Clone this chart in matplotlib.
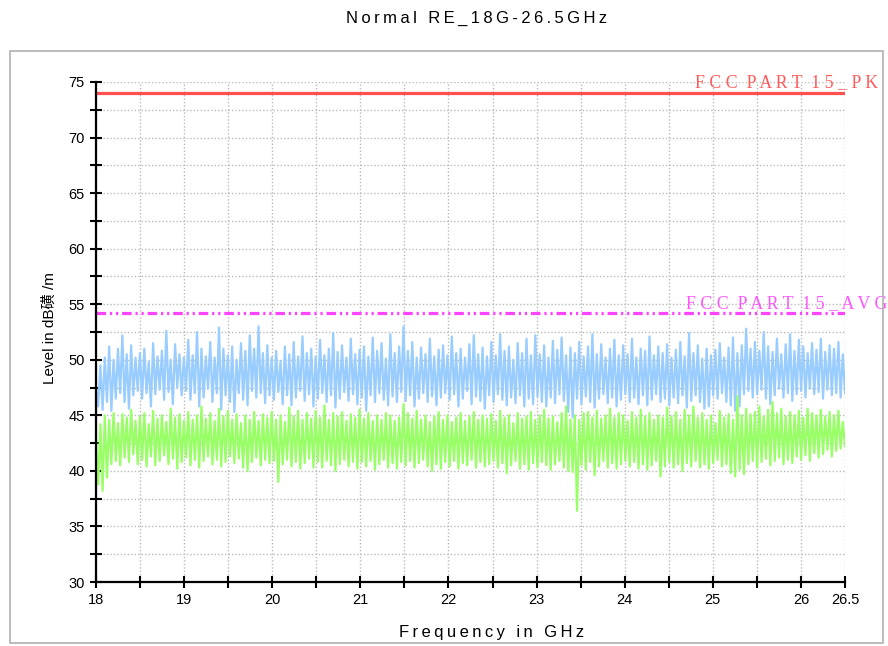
import numpy as np
import matplotlib
matplotlib.use("Agg")
import matplotlib.pyplot as plt
from matplotlib.patches import Rectangle

plt.rcParams['font.family'] = ['Liberation Sans', 'DejaVu Sans', 'Noto Sans CJK SC']

# limit lines (dBuV/m)
pk_limit = 74.0
avg_limit = 54.2

# sweep envelopes, one value per 0.05 GHz (18.0 .. 26.5)
blue_peaks = [
    47.5, 49.5, 50.2, 51.2, 50.0, 51.0, 52.2, 50.5, 51.3, 50.2,
    50.6, 51.0, 49.8, 51.5, 50.3, 50.8, 52.6, 50.0, 51.4, 50.5,
    50.2, 51.8, 50.4, 52.5, 51.0, 50.3, 51.6, 50.2, 52.9, 51.0,
    50.4, 51.2, 50.0, 51.5, 50.8, 52.2, 51.0, 53.0, 50.6, 51.3,
    50.2, 50.8, 49.9, 51.2, 50.5, 51.6, 50.3, 52.1, 50.6, 51.0,
    50.3, 51.8, 50.4, 51.0, 52.4, 50.7, 51.3, 50.2, 51.9, 50.5,
    50.9, 51.2, 50.3, 52.0, 50.8, 51.5, 50.1, 52.3, 50.6, 51.2,
    53.0, 50.8, 51.6, 50.2, 51.1, 50.5, 51.9, 50.3, 50.9, 51.3,
    50.4, 52.1, 50.6, 51.0, 50.2, 51.4, 52.2, 50.5, 51.1, 50.3,
    51.6, 50.4, 52.3, 50.8, 51.2, 50.0, 51.5, 50.6, 51.9, 50.4,
    52.2, 50.5, 51.3, 50.2, 51.7, 50.9, 52.0, 50.4, 51.1, 50.6,
    51.6, 50.3, 51.2, 52.3, 50.5, 51.4, 50.2, 51.0, 51.8, 50.4,
    51.3, 50.5, 51.9, 50.2, 51.0, 50.8, 52.1, 50.4, 51.2, 50.6,
    51.4, 50.2, 50.9, 51.6, 50.3, 52.4, 50.6, 51.3, 50.1, 51.0,
    50.4, 50.9, 51.5, 50.2, 51.1, 52.0, 50.6, 51.3, 52.8, 51.0,
    51.6, 50.8, 52.5, 51.2, 50.7, 51.9, 50.5, 51.4, 52.3, 50.8,
    51.8, 51.2, 50.6, 51.5, 50.9, 51.9, 50.7, 51.3, 51.0, 51.6,
    50.5]
blue_troughs = [
    45.8, 45.5, 46.2, 45.4, 46.5, 47.0, 46.2, 45.6, 46.8, 47.2,
    46.5, 47.0, 45.8, 46.9, 47.3, 46.4, 47.1, 46.0, 47.5, 46.8,
    47.2, 46.4, 47.0, 45.8, 46.6, 47.4, 46.2, 47.0, 45.5, 46.8,
    46.2, 45.3, 47.0, 46.4, 45.9, 47.2, 46.6, 47.0, 46.1, 46.8,
    46.4, 47.1, 46.0, 46.8, 45.9, 46.6, 47.2, 46.3, 46.9, 45.8,
    46.5, 47.0, 46.2, 46.8, 45.7, 46.5, 47.1, 46.3, 46.9, 46.0,
    46.6, 45.4, 46.8, 46.2, 47.0, 46.4, 45.9, 46.7, 46.2, 47.1,
    46.3, 46.8, 45.8, 46.5, 47.0, 46.2, 46.7, 45.9, 46.6, 47.0,
    46.4, 46.9, 45.8, 46.5, 47.2, 46.0, 46.7, 46.3, 45.6, 46.8,
    46.2, 46.9, 46.4, 45.9, 46.6, 46.1, 46.8, 45.8, 46.5, 46.0,
    46.7, 46.2, 45.8, 46.6, 46.1, 46.9, 46.3, 45.3, 44.8, 46.5,
    46.0, 46.7, 46.2, 45.7, 46.5, 46.9, 46.1, 46.6, 45.8, 46.4,
    46.9, 46.2, 46.6, 46.0, 46.8, 45.9, 46.4, 46.9, 46.2, 46.5,
    45.9, 46.6, 46.1, 46.8, 45.7, 46.3, 46.8, 46.2, 45.6, 45.8,
    46.8, 46.5, 47.0, 46.2, 45.9, 45.4, 45.8, 46.9, 47.2, 46.6,
    46.9, 47.3, 46.5, 46.0, 46.8, 47.4, 46.6, 47.0, 46.3, 46.9,
    47.2, 46.6, 47.4, 46.9, 47.1, 46.5, 47.3, 46.8, 47.0, 46.6,
    47.0]
green_peaks = [
    42.8, 44.2, 45.0, 44.6, 45.2, 44.3, 45.1, 44.8, 45.5, 44.5,
    44.9, 45.2, 44.2, 45.4, 44.7, 45.0, 44.4, 45.6, 44.8, 45.1,
    44.5, 45.3, 44.6, 45.0, 45.8, 44.7, 45.2, 44.5, 45.6, 44.9,
    45.4, 44.6, 45.1, 44.3, 45.0, 44.6, 45.3, 44.5, 45.1, 44.8,
    45.3, 44.6, 45.0, 44.4, 45.7, 44.9, 45.4, 44.6, 45.2, 44.7,
    45.4, 44.8, 45.9, 44.6, 45.2, 44.9, 45.3, 44.5, 45.1, 44.8,
    45.5, 44.7, 45.2, 44.5, 45.0, 44.6, 45.2, 45.0, 44.5, 44.8,
    46.0, 45.2, 44.7, 45.4, 44.6, 45.0, 44.4, 44.9, 45.3, 44.6,
    45.0, 44.4, 44.8, 45.2, 44.5, 44.9, 45.3, 44.6, 45.0, 44.7,
    45.1, 44.5, 45.4, 44.8, 45.0, 44.3, 45.2, 44.7, 44.9, 45.3,
    44.6, 45.0, 45.5, 44.7, 44.9, 44.4, 45.2, 45.8, 44.6, 45.0,
    44.6, 45.2, 45.3, 44.8, 45.4, 44.7, 45.0, 45.6, 44.8, 45.2,
    45.0, 44.5, 45.3, 44.8, 45.5, 44.9, 45.2, 44.6, 45.0, 44.8,
    45.7, 44.9, 45.3, 44.6, 45.5, 45.0, 45.8, 44.8, 45.2, 44.6,
    45.0, 44.3, 45.4, 44.8, 45.1, 44.6, 46.7, 45.0, 45.6, 45.1,
    45.3, 45.8, 44.9, 45.5, 46.2, 45.2, 45.6, 44.9, 45.3, 45.0,
    45.4, 44.8, 45.6, 45.2, 45.0, 45.5, 44.9, 45.3, 45.0, 45.4,
    44.4]
green_troughs = [
    38.8, 38.2, 39.4, 40.6, 40.9, 40.5, 41.2, 40.8, 41.5, 40.6,
    41.0, 40.4, 41.3, 40.5, 40.9, 41.4, 40.6, 41.1, 40.2, 40.8,
    41.2, 40.5, 41.0, 40.3, 40.9, 41.3, 40.6, 41.0, 40.4, 40.8,
    41.3, 40.7, 41.1, 40.3, 40.0, 40.8, 41.2, 40.5, 41.0, 40.7,
    40.9, 39.0, 40.6, 41.0, 40.4, 40.8, 40.2, 40.7, 41.1, 40.3,
    40.8, 40.3, 40.9, 40.5, 40.0, 40.6, 41.0, 40.4, 40.8, 40.2,
    40.8, 40.4, 40.9, 40.1, 40.6, 41.0, 40.3, 40.7, 40.2, 40.8,
    40.5, 40.9, 40.3, 40.7, 41.0, 40.4, 40.0, 40.6, 40.2, 40.8,
    40.4, 40.9, 40.2, 40.7, 40.5, 41.0, 40.3, 40.8, 40.4, 40.6,
    40.9, 40.3, 40.7, 39.8, 40.5, 40.9, 40.2, 40.6, 40.1, 40.7,
    40.3, 40.8, 40.5, 40.1, 40.6, 40.9, 40.3, 40.0, 39.9, 36.4,
    40.5, 40.1, 40.8, 39.6, 40.4, 40.9, 40.3, 40.7, 40.2, 40.6,
    40.9, 40.4, 40.8, 40.2, 40.6, 40.1, 40.5, 40.9, 39.5, 40.4,
    40.8, 40.3, 40.6, 40.0, 40.7, 40.4, 40.9, 40.3, 40.6, 40.2,
    40.7, 41.0, 40.4, 40.6, 39.8, 39.5, 40.1, 39.7, 40.6, 40.9,
    40.3, 40.8, 41.1, 40.5, 40.9, 41.2, 40.6, 41.0, 40.7, 41.3,
    41.0, 41.4, 40.9, 41.6, 41.2, 41.5, 41.9, 41.3, 41.8, 42.0,
    42.2]

x_ticks = np.arange(18, 26.51, 0.5)
x_labels = ['18', '', '19', '', '20', '', '21', '', '22', '', '23', '', '24', '',
            '25', '', '26', '26.5']
y_ticks = np.arange(30, 75.1, 2.5)
y_labels = [f'{v:g}' if v % 5 == 0 else '' for v in y_ticks]

TS = '\u2009'  # thin space, used as letter spacing


def spaced(s):
    return TS.join(s)


def sweep(peaks, troughs):
    # trace swings between the read max and min of each step
    y = np.column_stack([peaks, troughs]).ravel()
    x = np.linspace(18, 26.5, len(y))
    return x, y


fig = plt.figure(figsize=(8.88, 6.46), dpi=100)
ax = fig.add_axes([96 / 888, 1 - 582 / 646, 749 / 888, 500 / 646])

# outer frame
fig.patches.append(Rectangle((10 / 888, 3 / 646), 873 / 888, 592 / 646,
                             transform=fig.transFigure, fill=False,
                             edgecolor='#b0b0b0', lw=1.2))

xb, yb = sweep(blue_peaks, blue_troughs)
xg, yg = sweep(green_peaks, green_troughs)
ax.plot(xb, yb, color='#99ccff', lw=1.6)
ax.plot(xg, yg, color='#99ff66', lw=1.6)

ax.axhline(pk_limit, color='#ff5050', lw=2.3)
ax.axhline(avg_limit, color='#ff44ff', lw=2.3, ls=(0, (3, 1.2, 0.7, 1.2, 0.7, 1.2)))

ax.text(24.80, 74.9, 'F C C  P A R T  1 5 _ P K', color='#ff5a5a',
        family='Liberation Serif', fontsize=12.8, va='center', ha='left', clip_on=False)
ax.text(24.70, 55.05, 'F C C  P A R T  1 5 _ A V G', color='#ff55ff',
        family='Liberation Serif', fontsize=12.8, va='center', ha='left', clip_on=False)

ax.set_xlim(18, 26.5)
ax.set_ylim(30, 75)
ax.set_xticks(x_ticks)
ax.set_xticklabels(x_labels)
ax.set_yticks(y_ticks)
ax.set_yticklabels(y_labels)
ax.tick_params(direction='inout', length=8, width=1.5, labelsize=10.5, pad=4, colors='black')
ax.grid(True, color='#bbbbbb', ls=(0, (1, 1.5)), lw=1)
for s in ['top', 'right']:
    ax.spines[s].set_visible(False)
for s in ['left', 'bottom']:
    ax.spines[s].set_linewidth(1.6)

fig.text(477 / 888, 1 - 18 / 646, spaced('Normal RE_18G-26.5GHz'),
         ha='center', va='center', fontsize=12)
fig.text(492 / 888, 1 - 632 / 646, spaced('Frequency in GHz'),
         ha='center', va='center', fontsize=12)
fig.text(50 / 888, 1 - 328 / 646, 'Level in dB磺 /m', rotation=90,
         ha='center', va='center', fontsize=11)

fig.savefig('out.png', dpi=100)
